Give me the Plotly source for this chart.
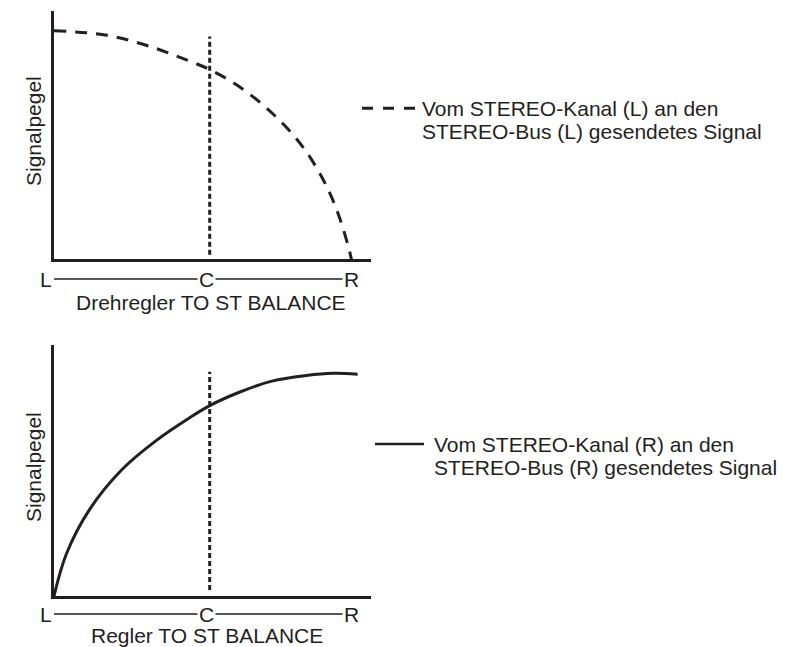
import plotly.graph_objects as go

# balance position (L = 0, C = 0.5) and relative signal level
left_pos = [0, 0.17, 0.31, 0.43, 0.5, 0.59, 0.70, 0.80, 0.875, 0.92, 0.95, 0.955]
left_level = [1.0, 0.98, 0.93, 0.87, 0.83, 0.76, 0.64, 0.49, 0.32, 0.17, 0.03, 0.0]

right_pos = [0, 0.04, 0.115, 0.22, 0.33, 0.435, 0.5, 0.595, 0.70, 0.81, 0.895, 0.975]
right_level = [0, 0.19, 0.39, 0.57, 0.70, 0.80, 0.855, 0.915, 0.965, 0.99, 1.0, 0.996]

center_pos = [0.5, 0.5]
center_top = [0.02, 0.975]
center_bottom = [0.027, 1.007]

tick_text = ["L", "C", "R"]
tick_pos = [0, 0.49, 0.955]
tick_anchor = ["right", "center", "center"]

x_titles = ["Drehregler TO ST BALANCE", "Regler TO ST BALANCE"]
y_title = "Signalpegel"
legend_top = ["Vom STEREO-Kanal (L) an den", "STEREO-Bus (L) gesendetes Signal"]
legend_bottom = ["Vom STEREO-Kanal (R) an den", "STEREO-Bus (R) gesendetes Signal"]

INK = "#231f20"
FONT = dict(family="Liberation Sans, Arial, Helvetica, sans-serif", size=21, color=INK)
W, H = 791, 647


def px_x(p):
    return p / W


def px_y(p):
    return 1 - p / H


fig = go.Figure()

fig.add_trace(go.Scatter(x=left_pos, y=left_level, mode="lines", line_shape="spline",
                         line=dict(color=INK, width=3, dash="12px,9px"),
                         xaxis="x", yaxis="y", showlegend=False, hoverinfo="skip"))
fig.add_trace(go.Scatter(x=center_pos, y=center_top, mode="lines",
                         line=dict(color=INK, width=3, dash="5px,3px"),
                         xaxis="x", yaxis="y", showlegend=False, hoverinfo="skip"))
fig.add_trace(go.Scatter(x=right_pos, y=right_level, mode="lines", line_shape="spline",
                         line=dict(color=INK, width=3),
                         xaxis="x2", yaxis="y2", showlegend=False, hoverinfo="skip"))
fig.add_trace(go.Scatter(x=center_pos, y=center_bottom, mode="lines",
                         line=dict(color=INK, width=3, dash="5px,3px"),
                         xaxis="x2", yaxis="y2", showlegend=False, hoverinfo="skip"))

axis_style = dict(showline=True, linecolor=INK, linewidth=3, showgrid=False,
                  zeroline=False, showticklabels=False, ticks="", fixedrange=True)

x_range = [0, (371 - 54) / 311.4]
fig.update_layout(
    xaxis=dict(domain=[px_x(54), px_x(371)], range=x_range, anchor="y", **axis_style),
    yaxis=dict(domain=[px_y(259.3), px_y(11)], range=[0, (259.3 - 11) / 228.6], anchor="x", **axis_style),
    xaxis2=dict(domain=[px_x(54), px_x(371)], range=x_range, anchor="y2", **axis_style),
    yaxis2=dict(domain=[px_y(596), px_y(345)], range=[0, (596 - 345) / 222.7], anchor="x2", **axis_style),
)

annotations = []
shapes = []
panels = [("x", 279, 302, 131), ("x2", 614, 635, 467)]
for i, (xr, tick_y, title_y, ylab_y) in enumerate(panels):
    # thin L-C-R scale line, letters mask it with white boxes
    shapes.append(dict(type="line", xref=xr, yref="paper", x0=tick_pos[0], x1=tick_pos[-1],
                       y0=px_y(tick_y), y1=px_y(tick_y), line=dict(color=INK, width=1.3), layer="above"))
    for t, p, a in zip(tick_text, tick_pos, tick_anchor):
        annotations.append(dict(text=t, x=p, y=px_y(tick_y), xref=xr, yref="paper",
                                showarrow=False, xanchor=a, yanchor="middle",
                                bgcolor="white", borderpad=1, font=FONT))
    annotations.append(dict(text=x_titles[i], x=px_x(211 if i == 0 else 207), y=px_y(title_y),
                            xref="paper", yref="paper", showarrow=False,
                            xanchor="center", yanchor="middle", font=FONT))
    annotations.append(dict(text=y_title, x=px_x(33), y=px_y(ylab_y), xref="paper", yref="paper",
                            showarrow=False, textangle=-90, xanchor="center", yanchor="middle", font=FONT))

# legend keys
shapes.append(dict(type="line", xref="paper", yref="paper", x0=px_x(362), x1=px_x(416),
                   y0=px_y(108.3), y1=px_y(108.3), line=dict(color=INK, width=3, dash="11px,10px")))
shapes.append(dict(type="line", xref="paper", yref="paper", x0=px_x(375), x1=px_x(424),
                   y0=px_y(444), y1=px_y(444), line=dict(color=INK, width=2.5)))

for lines, x0, y0 in [(legend_top, 420, 108), (legend_bottom, 432, 444)]:
    for k, line in enumerate(lines):
        annotations.append(dict(text=line, x=px_x(x0), y=px_y(y0 + 23.5 * k), xref="paper", yref="paper",
                                showarrow=False, xanchor="left", yanchor="middle", font=FONT))

fig.update_layout(
    width=W, height=H,
    margin=dict(l=0, r=0, t=0, b=0),
    paper_bgcolor="white", plot_bgcolor="white",
    showlegend=False,
    shapes=shapes, annotations=annotations,
    font=FONT,
)

fig.write_html("out.html", config={"displayModeBar": False},
               post_script="document.body.style.margin='0';")
